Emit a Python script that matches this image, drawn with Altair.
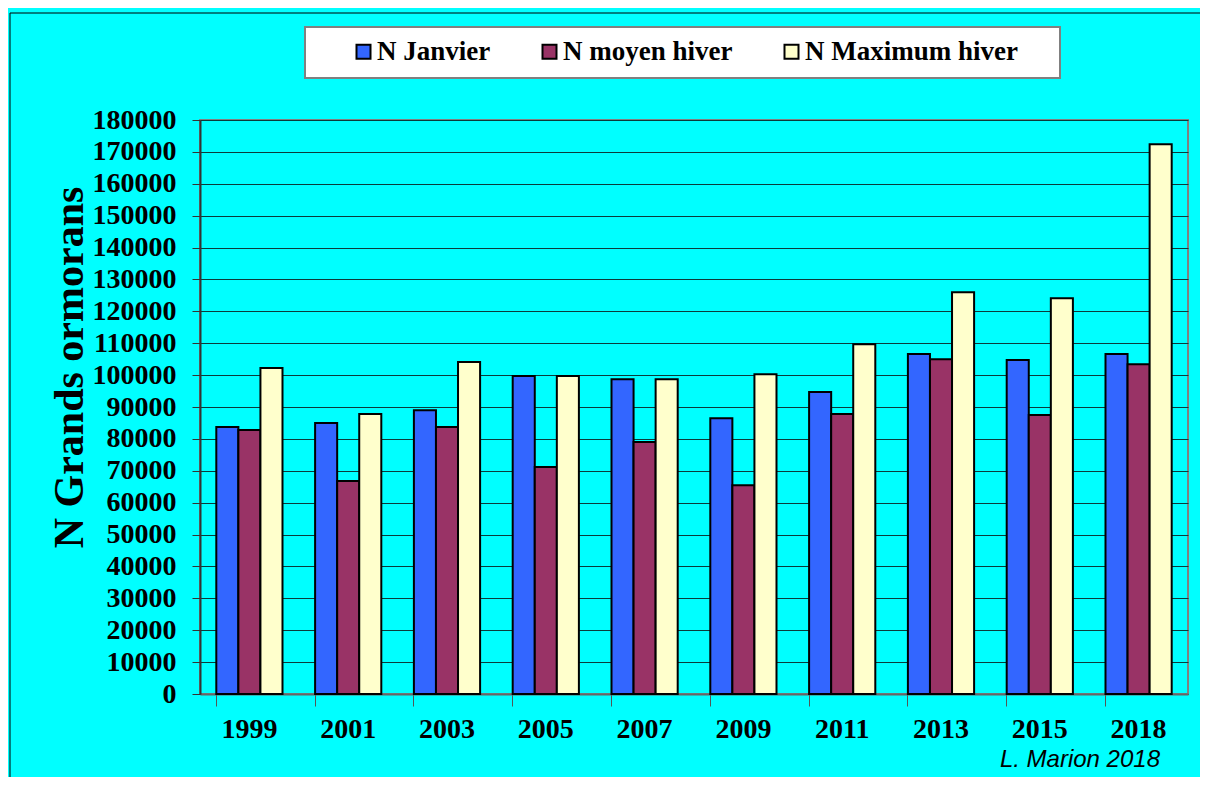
import altair as alt
import pandas as pd

years = ["1999", "2001", "2003", "2005", "2007", "2009", "2011", "2013", "2015", "2018"]
series_names = ["N Janvier", "N moyen hiver", "N Maximum hiver"]
janvier = [83700, 85000, 89000, 99700, 98700, 86500, 94700, 106600, 104700, 106600]
moyen = [82800, 66800, 83700, 71200, 79000, 65500, 87800, 105000, 87500, 103400]
maximum = [102200, 87800, 104100, 99700, 98700, 100300, 109700, 126000, 124100, 172400]
colors = ["#3366FF", "#993366", "#FFFFCC"]
y_ticks = list(range(0, 180001, 10000))

rows = []
for name, vals in zip(series_names, [janvier, moyen, maximum]):
    for yr, v in zip(years, vals):
        rows.append({"year": yr, "series": name, "value": v})
df = pd.DataFrame(rows)

SERIF = "Liberation Serif"

bars = alt.Chart(df).mark_bar(stroke="black", strokeWidth=2).encode(
    x=alt.X("year:N", sort=years, title=None,
            scale=alt.Scale(paddingInner=0.33, paddingOuter=0.165),
            axis=alt.Axis(labelFont=SERIF, labelFontSize=28, labelFontWeight="bold",
                          labelColor="black", labelAngle=0, labelPadding=9,
                          tickSize=12, tickColor="#555555", bandPosition=0,
                          domainColor="#666666", domainWidth=2, grid=False)),
    xOffset=alt.XOffset("series:N", sort=series_names),
    y=alt.Y("value:Q", title="N Grands ormorans",
            scale=alt.Scale(domain=[0, 180000], nice=False),
            axis=alt.Axis(values=y_ticks, format="d", labelFont=SERIF, labelFontSize=28,
                          labelFontWeight="bold", labelColor="black", labelPadding=16,
                          tickSize=8, tickColor="#333333", domainColor="#333333",
                          domainWidth=2, gridColor="#0b3b3b", gridWidth=1.2,
                          titleFont=SERIF, titleFontSize=42, titleFontWeight="bold",
                          titleColor="black", titleAngle=-90, titleAlign="center",
                          titleBaseline="alphabetic", titleX=-118, titleY=247)),
    color=alt.Color("series:N", sort=series_names,
                    scale=alt.Scale(domain=series_names, range=colors),
                    legend=alt.Legend(orient="none", legendX=150, legendY=-82,
                                      direction="horizontal", title=None,
                                      symbolType="square", symbolSize=196,
                                      symbolStrokeColor="black", symbolStrokeWidth=2,
                                      labelFont=SERIF, labelFontSize=27,
                                      labelFontWeight="bold", labelColor="black",
                                      labelLimit=500,
                                      columnPadding=45, labelOffset=0, padding=0)),
)

legend_box = alt.Chart(alt.Data(values=[{}])).mark_rect(
    fill="white", stroke="#808080", strokeWidth=2
).encode(x=alt.value(105), x2=alt.value(860), y=alt.value(-93), y2=alt.value(-42))

frame = alt.Chart(alt.Data(values=[{}])).mark_rect(
    fill=None, stroke="black", strokeWidth=1, clip=False
).encode(x=alt.value(-190), x2=alt.value(1030), y=alt.value(-107), y2=alt.value(700))

credit = alt.Chart(alt.Data(values=[{"t": "L. Marion 2018"}])).mark_text(
    font="Liberation Sans", fontSize=24, fontStyle="italic", align="right",
    baseline="middle", color="black"
).encode(text="t:N", x=alt.value(960), y=alt.value(640))

chart = alt.layer(legend_box, frame, bars, credit).properties(
    width=988, height=574,
    autosize=alt.AutoSizeParams(type="none"),
    padding={"left": 192, "top": 112, "right": 12, "bottom": 83},
    background="#00FFFF",
).configure_view(stroke="#808080", strokeWidth=2, fill=None).configure_legend(
    labelFont=SERIF, labelFontWeight="bold", labelFontSize=27, labelLimit=500
)

chart.save("out.html", embed_options={"renderer": "svg", "actions": False})
